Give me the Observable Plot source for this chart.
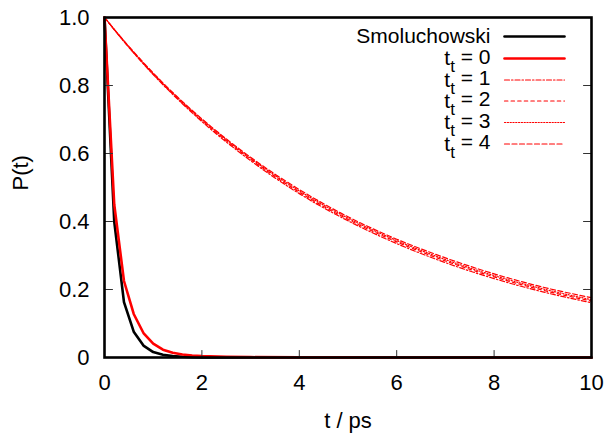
<!DOCTYPE html>
<html>
<head>
<meta charset="utf-8">
<script src="https://cdn.jsdelivr.net/npm/d3@7"></script>
<script src="https://cdn.jsdelivr.net/npm/@observablehq/plot@0.6"></script>
<style>
  body { margin: 0; background: #fff; }
</style>
</head>
<body>
<div id="chart"></div>
<script>
// Axis ticks
const xTicks = [0, 2, 4, 6, 8, 10];
const yTicks = [0, 0.2, 0.4, 0.6, 0.8, 1.0];

// Fast decays: Smoluchowski model and t_t = 0 (sampled every 0.2 ps early on)
const fastT = [0, 0.2, 0.4, 0.6, 0.8, 1.0, 1.2, 1.4, 1.6, 1.8, 2.0, 2.5, 3, 4, 5, 6, 7, 8, 9, 10];
const smolP = [1, 0.40, 0.163, 0.076, 0.035, 0.016, 0.008, 0.004, 0.002, 0.001, 0.0005, 0.0001, 0, 0, 0, 0, 0, 0, 0, 0];
const tt0P  = [1, 0.45, 0.225, 0.128, 0.072, 0.041, 0.023, 0.014, 0.009, 0.006, 0.004, 0.002, 0.001, 0.0005, 0.0003, 0.0002, 0.0001, 0, 0, 0];

// Slow decays for t_t = 1..4
const slowT = [0, 0.5, 1, 1.5, 2, 3, 4, 5, 6, 7, 8, 9, 10];
const tt1P = [1, 0.912, 0.832, 0.760, 0.694, 0.579, 0.482, 0.402, 0.335, 0.279, 0.232, 0.193, 0.161];
const tt2P = [1, 0.913, 0.834, 0.762, 0.697, 0.583, 0.486, 0.406, 0.340, 0.284, 0.237, 0.198, 0.166];
const tt3P = [1, 0.914, 0.835, 0.764, 0.700, 0.586, 0.490, 0.410, 0.344, 0.288, 0.241, 0.202, 0.170];
const tt4P = [1, 0.915, 0.837, 0.766, 0.702, 0.589, 0.494, 0.414, 0.348, 0.293, 0.246, 0.207, 0.176];

// Series labels and line styles
const seriesLabels = ["Smoluchowski", "t_t = 0", "t_t = 1", "t_t = 2", "t_t = 3", "t_t = 4"];
const seriesColors = ["black", "red", "red", "red", "red", "red"];
const seriesWidths = [2.6, 2.6, 1.2, 1.2, 1.2, 1.2];
const seriesDashes = [null, null, "5,2,1.5,2", "3.4,3.2", "1.2,1.6", "5,2.5"];

const rows = (t, p) => t.map((x, i) => ({t: x, p: p[i]}));

// A straight segment drawn from the anchor point
const segment = {draw(context, l) { context.moveTo(0, 0); context.lineTo(0, -l); }};

const slowSeries = [tt1P, tt2P, tt3P, tt4P];

const marks = [];

slowSeries.forEach((p, k) => {
  const i = k + 2;
  marks.push(Plot.line(rows(slowT, p), {
    x: "t", y: "p", curve: "monotone-x",
    stroke: seriesColors[i], strokeWidth: seriesWidths[i],
    strokeDasharray: seriesDashes[i]
  }));
});

marks.push(Plot.line(rows(fastT, smolP), {x: "t", y: "p", stroke: seriesColors[0], strokeWidth: seriesWidths[0], strokeLinejoin: "round"}));
marks.push(Plot.line(rows(fastT, tt0P), {x: "t", y: "p", stroke: seriesColors[1], strokeWidth: seriesWidths[1], strokeLinejoin: "round"}));

// Inward tick marks (left, right, bottom)
const tickStyle = {stroke: "#333", strokeWidth: 1, shape: segment, anchor: "start"};
marks.push(Plot.vector(yTicks.slice(1, -1), {y: d => d, frameAnchor: "left", rotate: 90, length: 8, ...tickStyle}));
marks.push(Plot.vector(yTicks.slice(1, -1), {y: d => d, frameAnchor: "right", rotate: -90, length: 8, ...tickStyle}));
marks.push(Plot.vector(xTicks.slice(1, -1), {x: d => d, frameAnchor: "bottom", rotate: 0, length: 7, ...tickStyle}));

// Tick labels
marks.push(Plot.axisX(xTicks, {tickSize: 0, tickPadding: 17, tickFormat: d => String(d), label: null, fontSize: 22}));
marks.push(Plot.axisY(yTicks, {tickSize: 0, tickPadding: 15, tickFormat: d => d === 0 ? "0" : d.toFixed(1), label: null, fontSize: 22}));

// Axis titles
marks.push(Plot.text(["P(t)"], {text: d => d, frameAnchor: "left", dx: -84, dy: 3, rotate: -90, lineAnchor: "middle", fontSize: 22, fill: "black"}));
marks.push(Plot.text(["t / ps"], {text: d => d, frameAnchor: "bottom", dy: 63, lineAnchor: "middle", fontSize: 22, fill: "black"}));

// Legend (top right, inside the frame); row offsets below the frame top
const legendRowOffsets = [19, 41, 62.5, 83.5, 105, 126.5];
seriesLabels.forEach((label, i) => {
  const dy = legendRowOffsets[i];
  marks.push(Plot.text([label], {text: d => d, frameAnchor: "top-right", dx: -101, dy, textAnchor: "end", lineAnchor: "middle", fontSize: 21, fill: "black"}));
  marks.push(Plot.vector([label], {
    frameAnchor: "top-right", dx: -87, dy, rotate: 90, length: 60, anchor: "start", shape: segment,
    stroke: seriesColors[i], strokeWidth: seriesWidths[i], strokeDasharray: seriesDashes[i]
  }));
});

marks.push(Plot.frame({stroke: "black", strokeWidth: 2.6}));

const chart = Plot.plot({
  width: 609,
  height: 435,
  marginLeft: 104,
  marginRight: 18,
  marginTop: 17,
  marginBottom: 78,
  x: {domain: [0, 10]},
  y: {domain: [0, 1]},
  style: {fontFamily: "'Liberation Sans', Arial, Helvetica, sans-serif", fontSize: "21px", background: "white", color: "black"},
  marks
});

// Subscripted legend labels: t_t -> t with subscript t
d3.select(chart).selectAll("text").each(function () {
  const s = this.textContent;
  if (s.startsWith("t_t")) {
    const el = d3.select(this);
    el.text(null);
    el.append("tspan").text("t");
    el.append("tspan").attr("dy", "0.4em").attr("font-size", "17px").text("t");
    el.append("tspan").attr("dy", "-0.4em").text(s.slice(3));
  }
});

document.getElementById("chart").appendChild(chart);
</script>
</body>
</html>
